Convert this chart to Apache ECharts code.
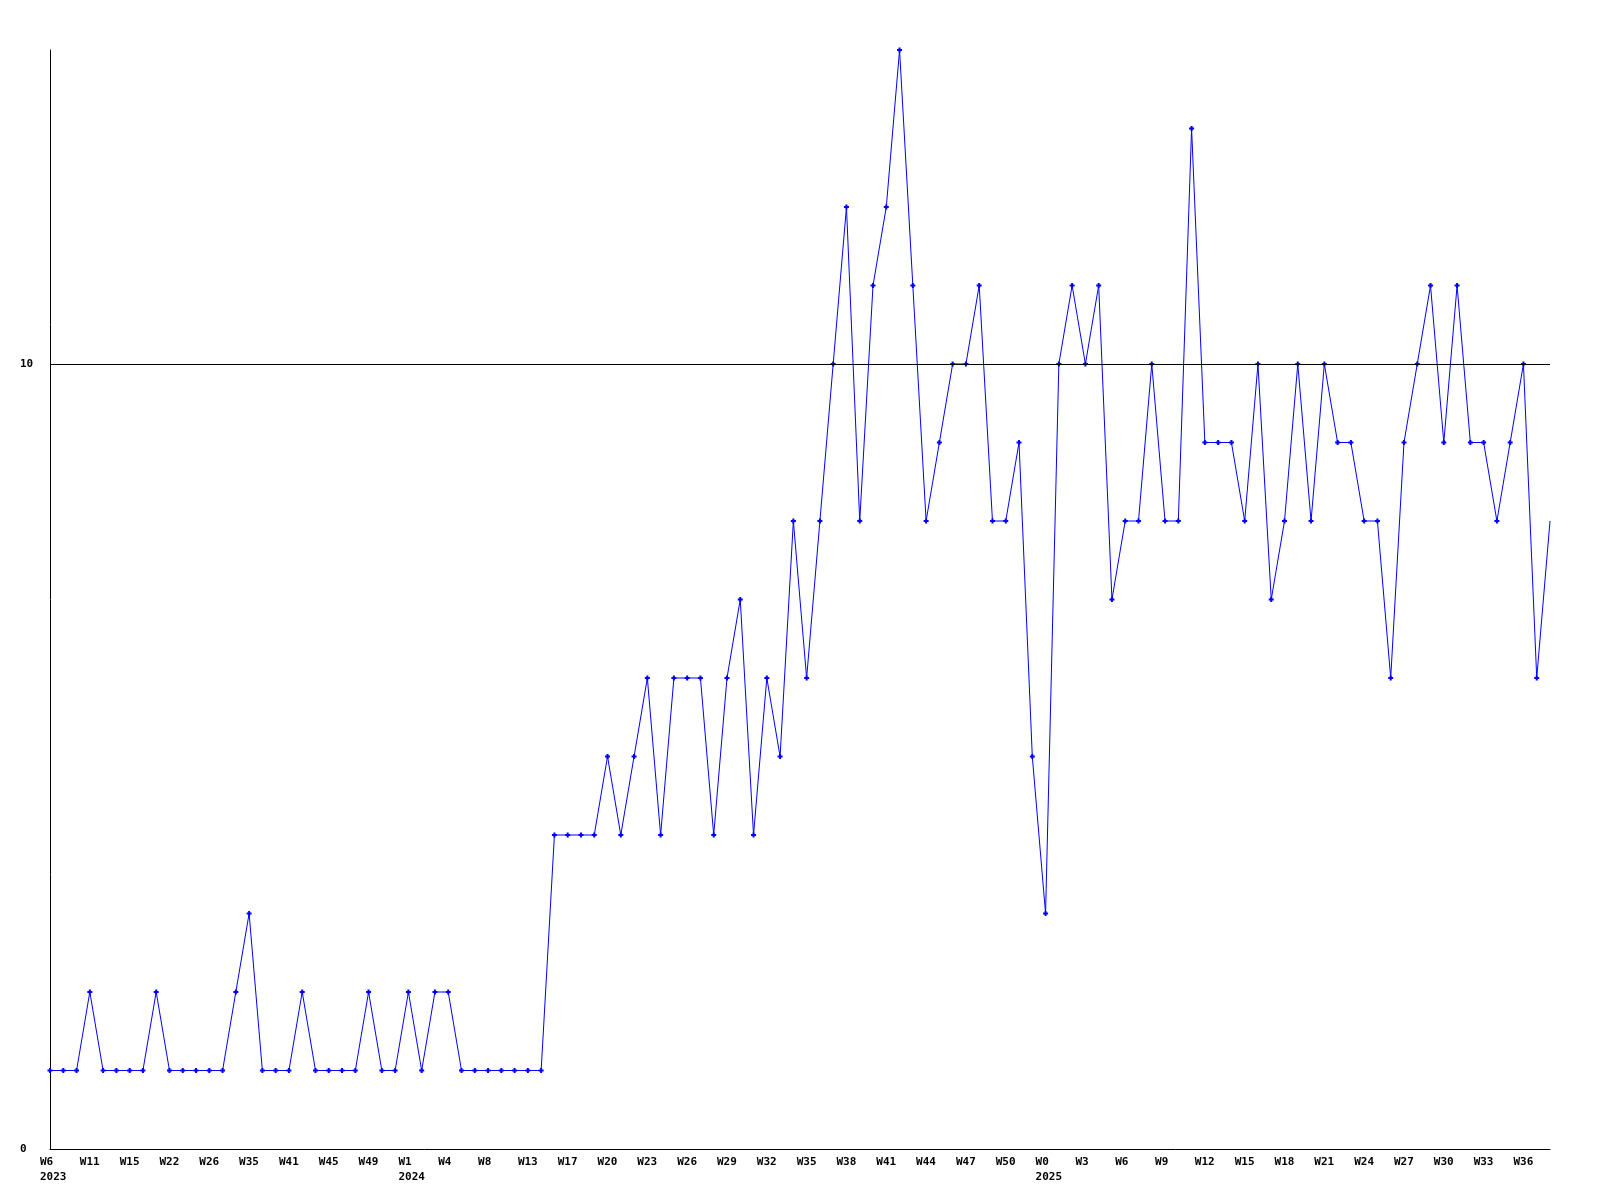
<!DOCTYPE html>
<html><head><meta charset="utf-8">
<script src="https://cdn.jsdelivr.net/npm/echarts@6/dist/echarts.min.js"></script>
<style>html,body{margin:0;padding:0;background:#fff}#c{width:1600px;height:1200px}</style>
</head><body><div id="c"></div>
<script>
// Category years and week numbers (one per data point)
const weeks2023 = [6,7,9,11,12,14,15,17,20,22,23,25,26,28,33,35,38,40,41,43,44,45,47,48,49,51,52];
const weeks2024 = [1,2,3,4,6,7,8,10,12,13,14,16,17,18,19,20,21,22,23,24,25,26,27,28,29,30,31,32,33,34,35,36,37,38,39,40,41,42,43,44,45,46,47,48,49,50,51,52];
const weeks2025 = [0,1,2,3,4,5,6,7,8,9,10,11,12,13,14,15,16,17,18,19,20,21,22,23,24,25,26,27,28,29,30,31,32,33,34,35,36,37,38];

// Series values
const values = [
  1,1,1,2,1,1,1,1,2,1,
  1,1,1,1,2,3,1,1,1,2,
  1,1,1,1,2,1,1,2,1,2,
  2,1,1,1,1,1,1,1,4,4,
  4,4,5,4,5,6,4,6,6,6,
  4,6,7,4,6,5,8,6,8,10,
  12,8,11,12,14,11,8,9,10,10,
  11,8,8,9,5,3,10,11,10,11,
  7,8,8,10,8,8,13,9,9,9,
  8,10,7,8,10,8,10,9,9,8,
  8,6,9,10,11,9,11,9,9,8,
  9,10,6,8
];

// Y axis tick labels and reference line
const yTickValues = [0, 10];
const yMax = 14;
const refLine = 10;

const categories = []
  .concat(weeks2023.map(w => '2023-W' + w))
  .concat(weeks2024.map(w => '2024-W' + w))
  .concat(weeks2025.map(w => '2025-W' + w));

const seriesData = values.map((v, i) =>
  i === values.length - 1 ? {value: v, symbol: 'none'} : v);

const font = 'DejaVu Sans Mono';
const chart = echarts.init(document.getElementById('c'), null, {renderer: 'canvas'});
chart.setOption({
  animation: false,
  backgroundColor: '#ffffff',
  grid: {left: 50, right: 50, top: 50, bottom: 51, containLabel: false},
  xAxis: {
    type: 'category',
    data: categories,
    boundaryGap: false,
    axisLine: {show: true, lineStyle: {color: '#000', width: 1}},
    axisTick: {show: false},
    splitLine: {show: false},
    axisLabel: {
      interval: 2,
      align: 'left',
      margin: 6,
      padding: [0, 0, 0, -10],
      lineHeight: 15,
      fontFamily: font,
      fontWeight: 'bold',
      fontSize: 11,
      color: '#000',
      formatter: function (val, idx) {
        const parts = val.split('-');
        const prev = idx > 0 ? categories[idx - 1].split('-')[0] : null;
        return parts[1] + (parts[0] !== prev ? '\n' + parts[0] : '');
      }
    }
  },
  yAxis: {
    type: 'value',
    min: 0,
    max: yMax,
    interval: 10,
    axisLine: {show: true, lineStyle: {color: '#000', width: 1}},
    axisTick: {show: false},
    splitLine: {show: false},
    axisLabel: {
      customValues: yTickValues,
      align: 'left',
      margin: 30,
      fontFamily: font,
      fontWeight: 'bold',
      fontSize: 11,
      color: '#000'
    }
  },
  series: [{
    type: 'line',
    data: seriesData,
    showAllSymbol: true,
    symbol: 'path://M1.5 0H3.5V1.5H5V3.5H3.5V5H1.5V3.5H0V1.5H1.5Z',
    symbolSize: 5,
    lineStyle: {color: '#0000ff', width: 1},
    itemStyle: {color: '#0000ff'},
    markLine: {
      silent: true,
      symbol: ['none', 'none'],
      label: {show: false},
      lineStyle: {color: '#000', width: 1, type: 'solid'},
      data: [{yAxis: refLine}]
    }
  }]
});
</script>
</body></html>
